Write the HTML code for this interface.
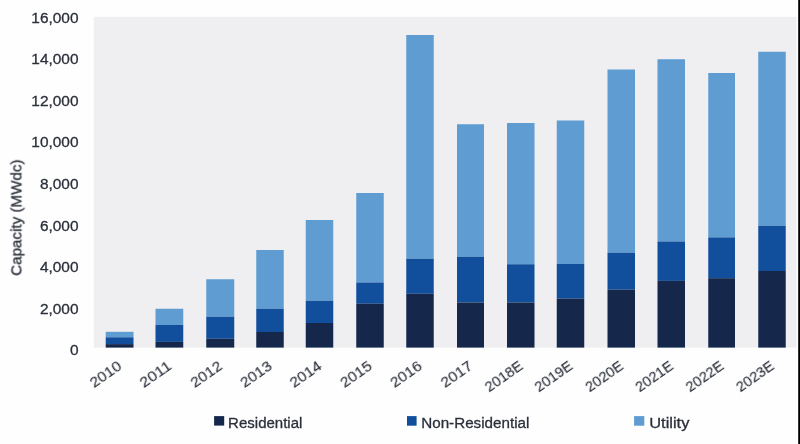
<!DOCTYPE html>
<html lang="en"><head><meta charset="utf-8"><title>Capacity chart</title>
<style>
html,body{margin:0;padding:0;background:#fff;}
body{width:800px;height:444px;overflow:hidden;}
svg{display:block;}
text{filter:blur(0.3px);stroke:#2b2f3a;stroke-width:0.3px;}
text{font-family:"Liberation Sans",sans-serif;font-size:15.3px;fill:#2b2f3a;}
.xl text{font-size:15.5px;stroke-width:0.1px;}
</style></head><body>
<svg width="800" height="444" viewBox="0 0 800 444">
<rect x="0" y="0" width="800" height="444" fill="#fefefe"/>
<rect x="93.8" y="16.8" width="702.9" height="330.8" fill="#efeff1"/>
<rect x="798.2" y="0" width="1.8" height="444" fill="#000"/>

<g class="bars">
<rect x="105.7" y="331.8" width="27.80" height="5.50" fill="#5e9cd1"/>
<rect x="105.7" y="337.3" width="27.80" height="6.80" fill="#114f9d"/>
<rect x="105.7" y="344.1" width="27.80" height="3.50" fill="#15284b"/>
<rect x="155.5" y="308.75" width="27.75" height="16.25" fill="#5e9cd1"/>
<rect x="155.5" y="325.0" width="27.75" height="16.90" fill="#114f9d"/>
<rect x="155.5" y="341.9" width="27.75" height="5.70" fill="#15284b"/>
<rect x="206.25" y="279.25" width="28.00" height="37.50" fill="#5e9cd1"/>
<rect x="206.25" y="316.75" width="28.00" height="22.00" fill="#114f9d"/>
<rect x="206.25" y="338.75" width="28.00" height="8.85" fill="#15284b"/>
<rect x="256.25" y="250.0" width="27.50" height="58.75" fill="#5e9cd1"/>
<rect x="256.25" y="308.75" width="27.50" height="23.25" fill="#114f9d"/>
<rect x="256.25" y="332.0" width="27.50" height="15.60" fill="#15284b"/>
<rect x="305.75" y="220.0" width="27.50" height="80.75" fill="#5e9cd1"/>
<rect x="305.75" y="300.75" width="27.50" height="22.25" fill="#114f9d"/>
<rect x="305.75" y="323.0" width="27.50" height="24.60" fill="#15284b"/>
<rect x="356.25" y="193.0" width="27.50" height="89.50" fill="#5e9cd1"/>
<rect x="356.25" y="282.5" width="27.50" height="21.25" fill="#114f9d"/>
<rect x="356.25" y="303.75" width="27.50" height="43.85" fill="#15284b"/>
<rect x="406.25" y="35.0" width="27.50" height="223.75" fill="#5e9cd1"/>
<rect x="406.25" y="258.75" width="27.50" height="35.00" fill="#114f9d"/>
<rect x="406.25" y="293.75" width="27.50" height="53.85" fill="#15284b"/>
<rect x="457.0" y="124.25" width="27.00" height="132.50" fill="#5e9cd1"/>
<rect x="457.0" y="256.75" width="27.00" height="45.75" fill="#114f9d"/>
<rect x="457.0" y="302.5" width="27.00" height="45.10" fill="#15284b"/>
<rect x="507.0" y="123.0" width="27.50" height="141.25" fill="#5e9cd1"/>
<rect x="507.0" y="264.25" width="27.50" height="38.25" fill="#114f9d"/>
<rect x="507.0" y="302.5" width="27.50" height="45.10" fill="#15284b"/>
<rect x="556.75" y="120.5" width="27.50" height="143.40" fill="#5e9cd1"/>
<rect x="556.75" y="263.9" width="27.50" height="34.70" fill="#114f9d"/>
<rect x="556.75" y="298.6" width="27.50" height="49.00" fill="#15284b"/>
<rect x="607.5" y="69.5" width="27.50" height="183.20" fill="#5e9cd1"/>
<rect x="607.5" y="252.7" width="27.50" height="37.00" fill="#114f9d"/>
<rect x="607.5" y="289.7" width="27.50" height="57.90" fill="#15284b"/>
<rect x="657.5" y="59.25" width="27.50" height="182.25" fill="#5e9cd1"/>
<rect x="657.5" y="241.5" width="27.50" height="39.40" fill="#114f9d"/>
<rect x="657.5" y="280.9" width="27.50" height="66.70" fill="#15284b"/>
<rect x="708.25" y="73.0" width="26.75" height="164.40" fill="#5e9cd1"/>
<rect x="708.25" y="237.4" width="26.75" height="40.80" fill="#114f9d"/>
<rect x="708.25" y="278.2" width="26.75" height="69.40" fill="#15284b"/>
<rect x="758.25" y="51.75" width="27.50" height="174.05" fill="#5e9cd1"/>
<rect x="758.25" y="225.8" width="27.50" height="45.20" fill="#114f9d"/>
<rect x="758.25" y="271.0" width="27.50" height="76.60" fill="#15284b"/>
</g>
<g class="yl">
<text transform="translate(78.5,22.90) scale(1.008,1)" text-anchor="end">16,000</text>
<text transform="translate(78.5,64.42) scale(1.008,1)" text-anchor="end">14,000</text>
<text transform="translate(78.5,105.94) scale(1.008,1)" text-anchor="end">12,000</text>
<text transform="translate(78.5,147.46) scale(1.008,1)" text-anchor="end">10,000</text>
<text transform="translate(78.5,188.98) scale(1.008,1)" text-anchor="end">8,000</text>
<text transform="translate(78.5,230.50) scale(1.008,1)" text-anchor="end">6,000</text>
<text transform="translate(78.5,272.02) scale(1.008,1)" text-anchor="end">4,000</text>
<text transform="translate(78.5,313.54) scale(1.008,1)" text-anchor="end">2,000</text>
<text transform="translate(78.5,355.06) scale(1.008,1)" text-anchor="end">0</text>
</g>
<text transform="translate(21.4,275.8) rotate(-90)" textLength="116.4" lengthAdjust="spacingAndGlyphs" style="font-size:15px">Capacity (MWdc)</text>
<g class="xl">
<text transform="translate(122.80,368.2) rotate(-35)" text-anchor="end" textLength="34.9" lengthAdjust="spacingAndGlyphs">2010</text>
<text transform="translate(172.57,368.2) rotate(-35)" text-anchor="end" textLength="34.9" lengthAdjust="spacingAndGlyphs">2011</text>
<text transform="translate(223.45,368.2) rotate(-35)" text-anchor="end" textLength="34.9" lengthAdjust="spacingAndGlyphs">2012</text>
<text transform="translate(273.20,368.2) rotate(-35)" text-anchor="end" textLength="34.9" lengthAdjust="spacingAndGlyphs">2013</text>
<text transform="translate(322.70,368.2) rotate(-35)" text-anchor="end" textLength="34.9" lengthAdjust="spacingAndGlyphs">2014</text>
<text transform="translate(373.20,368.2) rotate(-35)" text-anchor="end" textLength="34.9" lengthAdjust="spacingAndGlyphs">2015</text>
<text transform="translate(423.20,368.2) rotate(-35)" text-anchor="end" textLength="34.9" lengthAdjust="spacingAndGlyphs">2016</text>
<text transform="translate(473.70,368.2) rotate(-35)" text-anchor="end" textLength="34.9" lengthAdjust="spacingAndGlyphs">2017</text>
<text transform="translate(523.95,368.2) rotate(-35)" text-anchor="end" textLength="42.4" lengthAdjust="spacingAndGlyphs">2018E</text>
<text transform="translate(573.70,368.2) rotate(-35)" text-anchor="end" textLength="42.4" lengthAdjust="spacingAndGlyphs">2019E</text>
<text transform="translate(624.45,368.2) rotate(-35)" text-anchor="end" textLength="42.4" lengthAdjust="spacingAndGlyphs">2020E</text>
<text transform="translate(674.45,368.2) rotate(-35)" text-anchor="end" textLength="42.4" lengthAdjust="spacingAndGlyphs">2021E</text>
<text transform="translate(724.83,368.2) rotate(-35)" text-anchor="end" textLength="42.4" lengthAdjust="spacingAndGlyphs">2022E</text>
<text transform="translate(775.20,368.2) rotate(-35)" text-anchor="end" textLength="42.4" lengthAdjust="spacingAndGlyphs">2023E</text>
</g>
<rect x="214.1" y="416.1" width="10.1" height="9.5" fill="#15284b"/>
<text x="228.1" y="427.9" textLength="74.3" lengthAdjust="spacingAndGlyphs">Residential</text>
<rect x="407" y="416.1" width="9.6" height="9.6" fill="#114f9d"/>
<text x="421.2" y="427.9" textLength="108.2" lengthAdjust="spacingAndGlyphs">Non-Residential</text>
<rect x="634.1" y="416.1" width="10.2" height="9.6" fill="#5e9cd1"/>
<text x="649.2" y="427.9" textLength="40.2" lengthAdjust="spacingAndGlyphs">Utility</text>
</svg></body></html>
